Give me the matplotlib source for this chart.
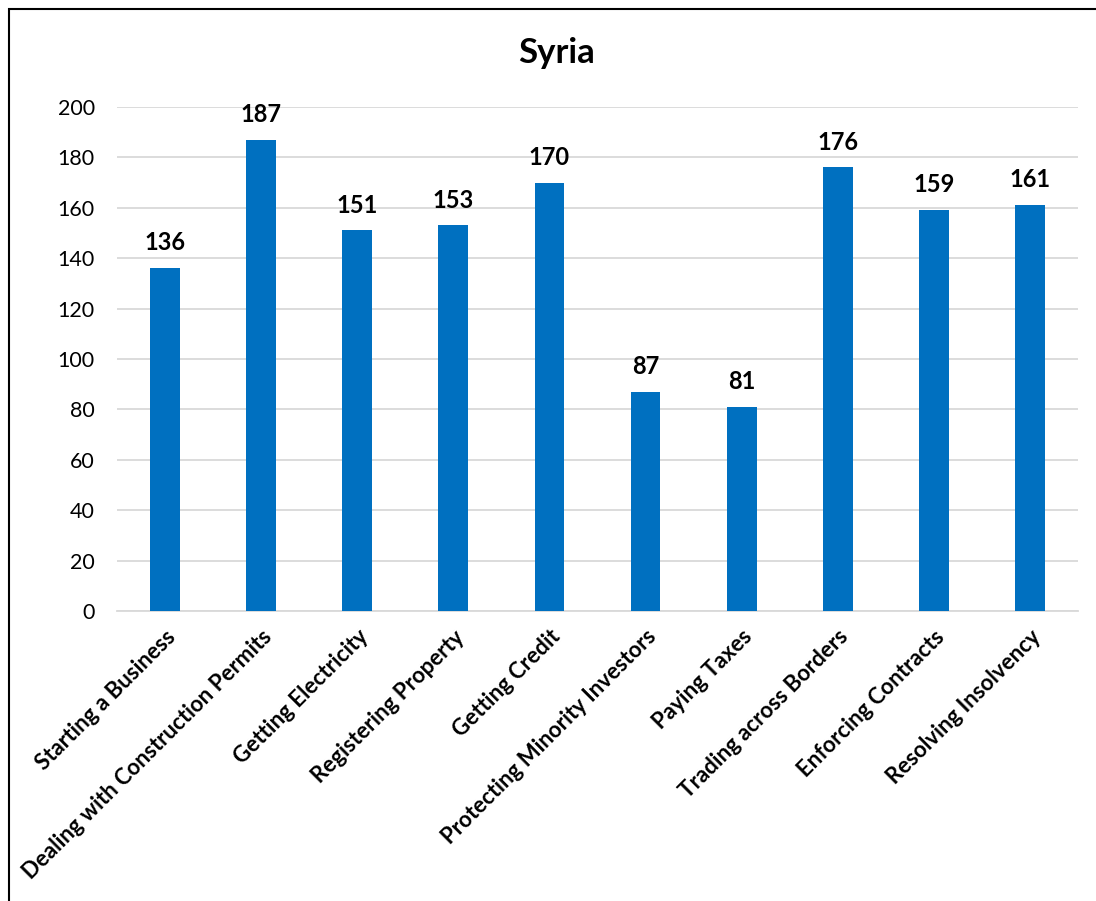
import matplotlib
matplotlib.use("Agg")
import matplotlib.pyplot as plt
from matplotlib.patches import Rectangle

categories = [
    "Starting a Business",
    "Dealing with Construction Permits",
    "Getting Electricity",
    "Registering Property",
    "Getting Credit",
    "Protecting Minority Investors",
    "Paying Taxes",
    "Trading across Borders",
    "Enforcing Contracts",
    "Resolving Insolvency",
]
values = [136, 187, 151, 153, 170, 87, 81, 176, 159, 161]
y_ticks = [0, 20, 40, 60, 80, 100, 120, 140, 160, 180, 200]
title = "Syria"

plt.rcParams["font.family"] = ["Lato", "DejaVu Sans"]

fig = plt.figure(figsize=(10.96, 9.01), dpi=100)
ax = fig.add_axes([117 / 1096, 1 - 611 / 901, (1078 - 117) / 1096, (611 - 107) / 901])

x = list(range(len(categories)))
ax.bar(x, values, width=0.31, color="#0070C0", zorder=3)
for xi, v in zip(x, values):
    ax.annotate(str(v), (xi, v), xytext=(0, 10), textcoords="offset points",
                ha="center", va="bottom", fontsize=17, fontweight="bold", color="black")

ax.set_xlim(-0.5, len(categories) - 0.5)
ax.set_ylim(0, 200)
ax.set_yticks(y_ticks)
ax.set_yticklabels([str(t) for t in y_ticks], fontsize=15.5)
ax.grid(axis="y", color="#D9D9D9", linewidth=1.3, zorder=0)
for s in ["top", "right", "left"]:
    ax.spines[s].set_visible(False)
ax.spines["bottom"].set_color("#D9D9D9")
ax.spines["bottom"].set_linewidth(1.3)
ax.tick_params(axis="both", length=0)
ax.tick_params(axis="y", pad=16)
ax.set_xticks(x)
ax.set_xticklabels(categories, rotation=45, ha="right", rotation_mode="anchor",
                   fontsize=16, fontweight="bold")
ax.tick_params(axis="x", pad=11)

fig.text(557 / 1096, 1 - 53 / 901, title, ha="center", va="center",
         fontsize=25, fontweight="bold")

# chart frame
fig.patches.append(Rectangle((9 / 1096, -0.05), 1.2, 1 - 9 / 901 + 0.05,
                             transform=fig.transFigure, fill=False,
                             edgecolor="black", linewidth=1.5))

fig.savefig("out.png", dpi=100)
